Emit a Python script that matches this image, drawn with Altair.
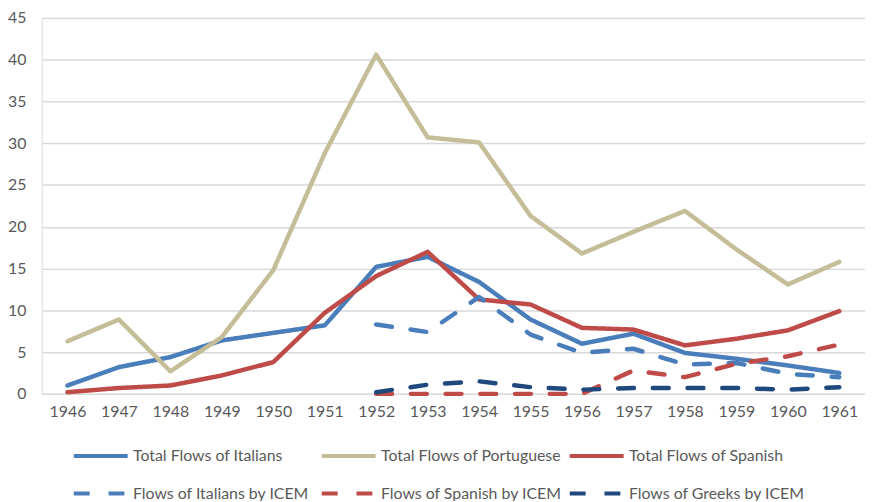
import altair as alt
import pandas as pd

years = [str(y) for y in range(1946, 1962)]

series_names = [
    "Total Flows of Italians",
    "Total Flows of Portuguese",
    "Total Flows of Spanish",
    "Flows of Italians by ICEM",
    "Flows of Spanish by ICEM",
    "Flows of Greeks by ICEM",
]

italians_total = [1.0, 3.2, 4.4, 6.4, 7.3, 8.2, 15.2, 16.4, 13.4, 8.9, 6.0, 7.2, 4.9, 4.2, 3.4, 2.5]
portuguese_total = [6.3, 8.9, 2.7, 6.8, 14.8, 28.8, 40.6, 30.7, 30.1, 21.3, 16.8, 19.4, 21.9, 17.3, 13.1, 15.8]
spanish_total = [0.2, 0.7, 1.0, 2.2, 3.8, 9.7, 14.1, 17.0, 11.3, 10.7, 7.9, 7.7, 5.8, 6.6, 7.6, 9.9]
italians_icem = [None] * 6 + [8.3, 7.4, 11.6, 7.1, 4.9, 5.4, 3.5, 3.7, 2.4, 2.0]
spanish_icem = [None] * 6 + [0.0, 0.0, 0.0, 0.0, 0.0, 2.8, 2.0, 3.6, 4.5, 5.9]
greeks_icem = [None] * 6 + [0.2, 1.1, 1.5, 0.8, 0.5, 0.7, 0.7, 0.7, 0.5, 0.8]

colors = ["#4A7EBB", "#C4BD97", "#BE4B48", "#4A7EBB", "#BE4B48", "#1F497D"]
dashes = [[1, 0], [1, 0], [1, 0], [16, 19], [16, 19], [16, 19]]

all_values = [italians_total, portuguese_total, spanish_total, italians_icem, spanish_icem, greeks_icem]
rows = []
for name, vals in zip(series_names, all_values):
    for yr, v in zip(years, vals):
        if v is not None:
            rows.append({"year": yr, "value": v, "series": name})
df = pd.DataFrame(rows)

FONT = "Lato"
GREY = "#595959"

legend_opts = dict(title=None, orient="none", legendX=30, legendY=412,
                   columns=3, direction="horizontal", gridAlign="all",
                   symbolType="stroke", symbolSize=2950, symbolStrokeWidth=4,
                   labelFont=FONT, labelFontSize=16, labelColor=GREY,
                   labelOffset=3, columnPadding=-1, rowPadding=-23,
                   labelLimit=300)

chart = alt.Chart(df).mark_line(strokeWidth=4.5, strokeCap="round", strokeJoin="round").encode(
    x=alt.X("year:O", sort=years,
            scale=alt.Scale(type="point", padding=0.5),
            axis=alt.Axis(title=None, labelAngle=0, ticks=False, domain=False, grid=False,
                          labelPadding=10, labelFont=FONT, labelFontSize=16, labelColor=GREY)),
    y=alt.Y("value:Q", scale=alt.Scale(domain=[0, 45], nice=False),
            axis=alt.Axis(title=None, values=list(range(0, 46, 5)), ticks=False, domain=False,
                          gridColor="#D9D9D9", gridWidth=1.5, labelPadding=16,
                          labelFont=FONT, labelFontSize=16, labelColor=GREY)),
    color=alt.Color("series:N", scale=alt.Scale(domain=series_names, range=colors),
                    legend=alt.Legend(**legend_opts)),
    strokeDash=alt.StrokeDash("series:N", scale=alt.Scale(domain=series_names, range=dashes),
                              legend=alt.Legend(**legend_opts)),
    order=alt.Order("year:O"),
).properties(
    width=830, height=379,
    autosize=alt.AutoSizeParams(type="none"),
    padding={"left": 34, "top": 8, "right": 0, "bottom": 106},
).configure_view(stroke=None).configure(background="white")

chart.save("out.html", embed_options={"renderer": "svg", "actions": False})
